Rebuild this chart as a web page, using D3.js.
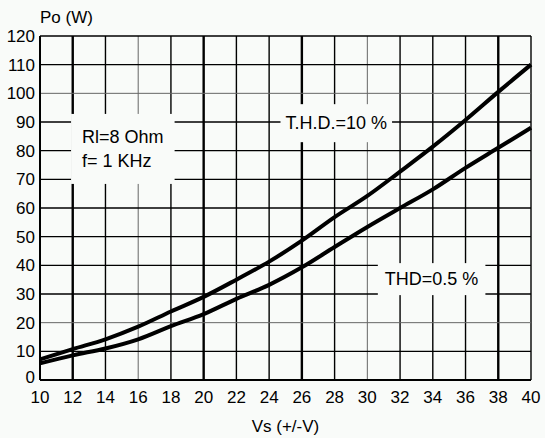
<!DOCTYPE html>
<html>
<head>
<meta charset="utf-8">
<script src="https://cdn.jsdelivr.net/npm/d3@7"></script>
<style>
  html, body { margin: 0; padding: 0; background: #f9fbf9; }
  svg { display: block; font-family: "Liberation Sans", Arial, sans-serif; }
</style>
</head>
<body>
<svg id="svg" width="545" height="438"></svg>
<script>
// supply voltage (+/- V)
var vsValues = [10, 12, 14, 16, 18, 20, 22, 24, 26, 28, 30, 32, 34, 36, 38, 40];
// output power (W)
var thd10 = [7.2, 10.8, 14.2, 18.6, 23.9, 29, 35, 41.3, 48.6, 56.8, 64.2, 72.7, 81.4, 90.7, 100.5, 110];
var thd05 = [5.8, 8.6, 11, 14.2, 18.8, 23, 28.3, 33.2, 39.3, 46.4, 53.4, 60, 66.5, 74, 81, 88];

var xTicks = d3.range(10, 41, 2);
var yTicks = d3.range(0, 121, 10);
var heavyX = [12, 20, 26, 38];
var lightX = [16, 30];
var lightY = [20, 100];

var svg = d3.select("#svg");
var bg = "#f9fbf9";

var xScale = d3.scaleLinear().domain([10, 40]).range([40, 531]);
var yScale = d3.scaleLinear().domain([0, 120]).range([380, 36]);

// grid
var grid = svg.append("g").attr("class", "grid");
grid.selectAll(".vline")
  .data(xTicks)
  .enter()
  .append("line")
  .attr("class", "vline")
  .attr("x1", d => xScale(d))
  .attr("x2", d => xScale(d))
  .attr("y1", yScale(0))
  .attr("y2", yScale(120))
  .attr("stroke", d => (lightX.includes(d) ? "#666" : "#000"))
  .attr("stroke-width", d => (heavyX.includes(d) ? 2.4 : lightX.includes(d) ? 1 : 1.4));

grid.selectAll(".hline")
  .data(yTicks)
  .enter()
  .append("line")
  .attr("class", "hline")
  .attr("x1", xScale(10))
  .attr("x2", xScale(40))
  .attr("y1", d => yScale(d))
  .attr("y2", d => yScale(d))
  .attr("stroke", d => (lightY.includes(d) ? "#666" : "#000"))
  .attr("stroke-width", d => (lightY.includes(d) ? 1 : 1.4));

// frame (left and bottom a bit heavier)
svg.append("line")
  .attr("x1", xScale(10)).attr("x2", xScale(10))
  .attr("y1", yScale(0)).attr("y2", yScale(120))
  .attr("stroke", "#000").attr("stroke-width", 2);
svg.append("line")
  .attr("x1", xScale(10)).attr("x2", xScale(40))
  .attr("y1", yScale(0)).attr("y2", yScale(0))
  .attr("stroke", "#000").attr("stroke-width", 2);

// curves
var line = d3.line()
  .x((d, i) => xScale(vsValues[i]))
  .y(d => yScale(d))
  .curve(d3.curveMonotoneX);

[thd10, thd05].forEach(function(series) {
  svg.append("path")
    .datum(series)
    .attr("fill", "none")
    .attr("stroke", "#000")
    .attr("stroke-width", 4)
    .attr("stroke-linejoin", "round")
    .attr("d", line);
});

// tick labels
svg.append("g")
  .selectAll("text")
  .data(yTicks)
  .enter()
  .append("text")
  .attr("x", xScale(10) - 5)
  .attr("y", d => yScale(d))
  .attr("dy", d => (d === 0 ? "0.2em" : "0.36em"))
  .attr("text-anchor", "end")
  .style("font-size", "17px")
  .text(d => d);

svg.append("g")
  .selectAll("text")
  .data(xTicks)
  .enter()
  .append("text")
  .attr("x", d => xScale(d))
  .attr("y", yScale(0) + 23)
  .attr("text-anchor", "middle")
  .style("font-size", "17px")
  .text(d => d);

// axis titles
svg.append("text")
  .attr("x", xScale(10))
  .attr("y", 23)
  .style("font-size", "17px")
  .text("Po (W)");

svg.append("text")
  .attr("x", (xScale(10) + xScale(40)) / 2)
  .attr("y", 432)
  .attr("text-anchor", "middle")
  .style("font-size", "17px")
  .text("Vs (+/-V)");

// annotations with a background patch that hides the grid
function note(lines, vx, py, pad) {
  var g = svg.append("g");
  var rect = g.append("rect").attr("fill", bg);
  var t = g.append("text")
    .attr("x", xScale(vx))
    .attr("y", yScale(py))
    .style("font-size", "18px");
  lines.forEach(function(s, i) {
    t.append("tspan")
      .attr("x", xScale(vx))
      .attr("dy", i === 0 ? 0 : 24)
      .text(s);
  });
  var b = t.node().getBBox();
  rect.attr("x", b.x - pad[0])
    .attr("y", b.y - pad[1])
    .attr("width", b.width + 2 * pad[0])
    .attr("height", b.height + 2 * pad[1]);
}

note(["Rl=8 Ohm", "f= 1 KHz"], 12.57, 82.7, [11, 13]);
note(["T.H.D.=10 %"], 25, 87.5, [5, 9]);
note(["THD=0.5 %"], 31.07, 33.1, [7, 6]);
</script>
</body>
</html>
